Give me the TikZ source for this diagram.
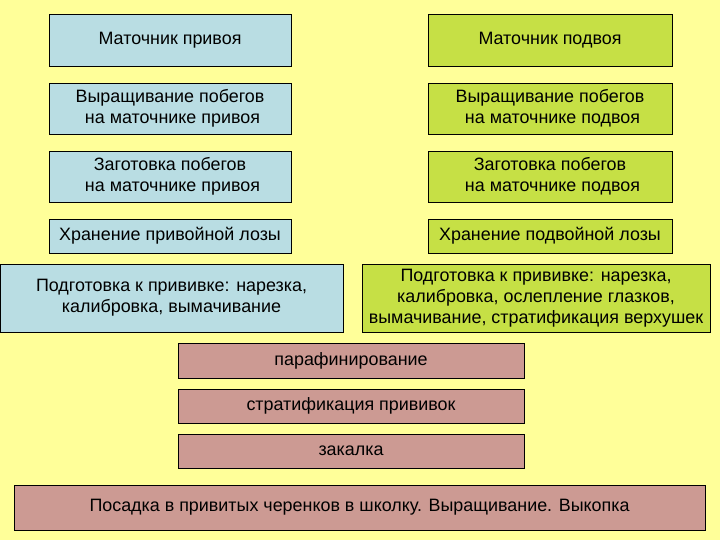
\documentclass[tikz,border=0pt]{standalone}
\usepackage{fontspec}
\setmainfont{Liberation Sans}
\definecolor{bgyellow}{HTML}{FFFF99}
\definecolor{boxblue}{HTML}{B9DDE3}
\definecolor{boxgreen}{HTML}{C6E045}
\definecolor{boxpink}{HTML}{CC9A93}
\begin{document}
\begin{tikzpicture}[x=1pt,y=-1pt,
  base/.style={draw=black,line width=0.9pt,inner sep=1pt,align=center,
    font=\fontsize{17.9}{21.3}\selectfont,text=black},
  bluebox/.style={base,fill=boxblue},
  greenbox/.style={base,fill=boxgreen},
  pinkbox/.style={base,fill=boxpink},
  sz/.style 2 args={minimum width=#1pt,minimum height=#2pt}]
\fill[bgyellow] (0,0) rectangle (720,540);
\useasboundingbox (0,0) rectangle (720,540);
% left column
\node[bluebox,sz={242}{52}] (l1) at (170,40) {Маточник привоя};
\node[bluebox,sz={242}{51}] (l2) at (170,108.5) {Выращивание побегов\\\hspace*{5pt}на маточнике привоя};
\node[bluebox,sz={242}{51}] (l3) at (170,176.5) {Заготовка побегов\\\hspace*{5pt}на маточнике привоя};
\node[bluebox,sz={242}{34}] (l4) at (170,236) {Хранение привойной лозы};
\node[bluebox,sz={343}{68}] (l5) at (171.5,298) {Подготовка к прививке: нарезка,\\калибровка, вымачивание};
% right column
\node[greenbox,sz={244}{52}] (r1) at (550,40) {Маточник подвоя};
\node[greenbox,sz={244}{51}] (r2) at (550,108.5) {Выращивание побегов\\\hspace*{5pt}на маточнике подвоя};
\node[greenbox,sz={244}{51}] (r3) at (550,176.5) {Заготовка побегов\\\hspace*{5pt}на маточнике подвоя};
\node[greenbox,sz={244}{34}] (r4) at (550,236) {Хранение подвойной лозы};
\node[greenbox,sz={348}{68}] (r5) at (536,298) {Подготовка к прививке: нарезка,\\калибровка, ослепление глазков,\\вымачивание, стратификация верхушек};
% common steps
\node[pinkbox,sz={346}{35}] (p1) at (351,360.5) {парафинирование};
\node[pinkbox,sz={346}{34}] (p2) at (351,406) {стратификация прививок};
\node[pinkbox,sz={346}{34}] (p3) at (351,451) {закалка};
\node[pinkbox,sz={691}{45}] (p4) at (359.5,507.5) {Посадка в привитых черенков в школку. Выращивание. Выкопка};
\end{tikzpicture}
\end{document}
